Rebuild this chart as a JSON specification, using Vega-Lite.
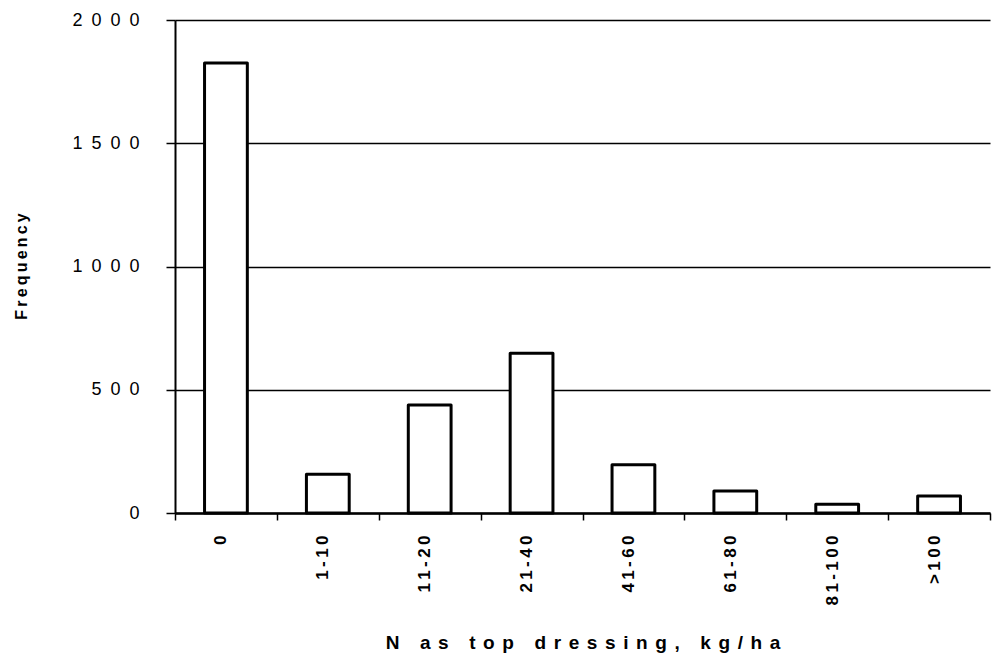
{
  "$schema": "https://vega.github.io/schema/vega-lite/v6.json",
  "width": 815,
  "height": 493,
  "autosize": {"type": "none"},
  "padding": {"left": 175, "top": 20, "right": 4, "bottom": 145},
  "background": "white",
  "config": {"view": {"stroke": null}, "font": "Liberation Sans"},
  "data": {
    "values": [
      {"n": "0", "freq": 1826},
      {"n": "1-10", "freq": 157},
      {"n": "11-20", "freq": 438},
      {"n": "21-40", "freq": 648},
      {"n": "41-60", "freq": 196},
      {"n": "61-80", "freq": 89},
      {"n": "81-100", "freq": 35},
      {"n": ">100", "freq": 69}
    ]
  },
  "mark": {"type": "bar", "fill": "white", "stroke": "black", "strokeWidth": 3, "strokeJoin": "round", "width": {"band": 0.42}},
  "encoding": {
    "x": {
      "field": "n",
      "type": "nominal",
      "sort": null,
      "scale": {"paddingInner": 0, "paddingOuter": 0},
      "axis": {
        "tickBand": "extent",
        "ticks": true,
        "tickSize": 7,
        "tickWidth": 1.5,
        "tickColor": "black",
        "domain": true,
        "domainColor": "black",
        "domainWidth": 2.5,
        "grid": false,
        "labelAngle": -90,
        "labelAlign": "right",
        "labelBaseline": "middle",
        "labelPadding": 15,
        "labelOffset": -5,
        "labelFont": "Liberation Sans",
        "labelFontSize": 17,
        "labelFontWeight": "bold",
        "labelColor": "black",
        "labelExpr": "join(split(datum.label, ''), '\u2009')",
        "title": "N\u2009\u2009\u00a0\u2009\u2009a\u2009\u2009s\u2009\u2009\u00a0\u2009\u2009t\u2009\u2009o\u2009\u2009p\u2009\u2009\u00a0\u2009\u2009d\u2009\u2009r\u2009\u2009e\u2009\u2009s\u2009\u2009s\u2009\u2009i\u2009\u2009n\u2009\u2009g\u2009\u2009,\u2009\u2009\u00a0\u2009\u2009k\u2009\u2009g\u2009\u2009/\u2009\u2009h\u2009\u2009a",
        "titleFont": "Liberation Sans",
        "titleFontSize": 19,
        "titleFontWeight": "bold",
        "titleColor": "black",
        "titleY": 135,
        "titleBaseline": "alphabetic"
      }
    },
    "y": {
      "field": "freq",
      "type": "quantitative",
      "scale": {"domain": [0, 2000], "nice": false},
      "axis": {
        "values": [0, 500, 1000, 1500, 2000],
        "domainColor": "black",
        "domainWidth": 2,
        "tickColor": "black",
        "tickSize": 9,
        "tickWidth": 1.5,
        "grid": true,
        "gridColor": "black",
        "gridWidth": 1.5,
        "gridOpacity": 1,
        "labelFont": "Liberation Sans",
        "labelFontSize": 18,
        "labelColor": "black",
        "labelPadding": 27,
        "labelExpr": "join(split(toString(datum.value), ''), '\u2002')",
        "title": "F\u2009r\u2009e\u2009q\u2009u\u2009e\u2009n\u2009c\u2009y",
        "titleFont": "Liberation Sans",
        "titleFontSize": 16,
        "titleFontWeight": "bold",
        "titleColor": "black",
        "titleAngle": -90,
        "titleX": -149,
        "titleY": 246,
        "titleAlign": "center",
        "titleBaseline": "alphabetic"
      }
    }
  }
}
